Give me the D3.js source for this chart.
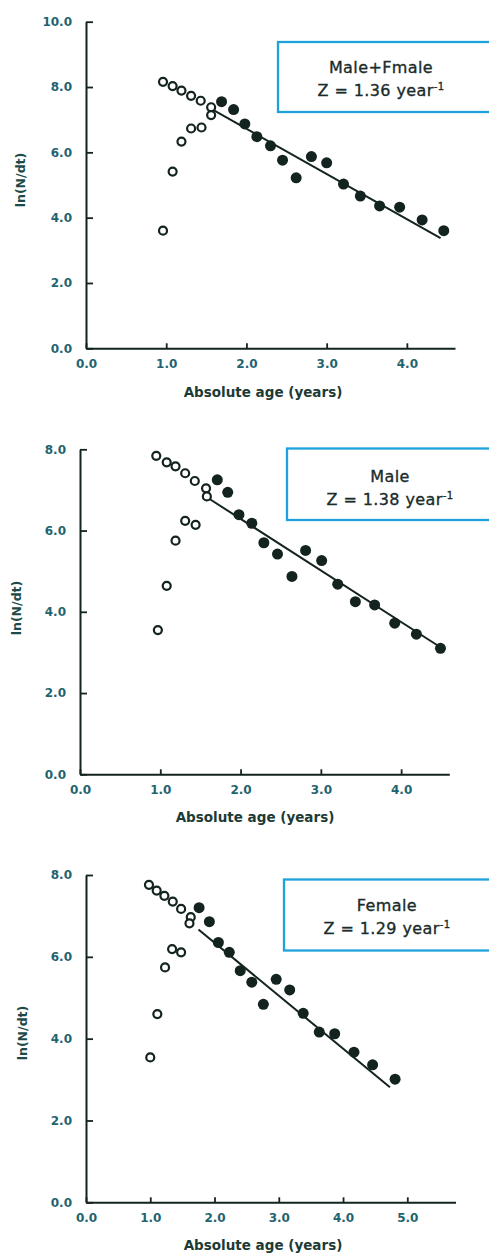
<!DOCTYPE html>
<html>
<head>
<meta charset="utf-8">
<script src="https://cdn.jsdelivr.net/npm/d3@7"></script>
<style>
  html, body { margin: 0; padding: 0; background: #ffffff; overflow: hidden; }
  svg { display: block; }
</style>
</head>
<body>
<svg id="chart" width="489" height="1253"></svg>
<script>
// ---------- DATA ----------
const panelTitles = ["Male+Fmale", "Male", "Female"];
const panelZ = ["1.36", "1.38", "1.29"];
const xAxisTitle = "Absolute age (years)";
const yAxisTitle = "ln(N/dt)";

const p1XTicks = [0, 1, 2, 3, 4];
const p1YTicks = [0, 2, 4, 6, 8, 10];
const p2XTicks = [0, 1, 2, 3, 4];
const p2YTicks = [0, 2, 4, 6, 8];
const p3XTicks = [0, 1, 2, 3, 4, 5];
const p3YTicks = [0, 2, 4, 6, 8];

// Panel 1 : Male+Fmale
const p1OpenX = [0.96, 1.08, 1.19, 1.31, 1.43, 1.56, 1.56, 1.44, 1.31, 1.19, 1.08, 0.96];
const p1OpenY = [8.16, 8.03, 7.89, 7.73, 7.58, 7.38, 7.14, 6.76, 6.73, 6.33, 5.41, 3.60];
const p1FilledX = [1.69, 1.84, 1.98, 2.13, 2.30, 2.45, 2.62, 2.81, 3.00, 3.21, 3.42, 3.66, 3.91, 4.19, 4.46];
const p1FilledY = [7.55, 7.31, 6.87, 6.48, 6.20, 5.76, 5.22, 5.87, 5.68, 5.03, 4.66, 4.36, 4.32, 3.93, 3.60];
const p1LineX = [1.59, 4.42];
const p1LineY = [7.29, 3.37];

// Panel 2 : Male
const p2OpenX = [0.95, 1.08, 1.19, 1.31, 1.43, 1.57, 1.58, 1.44, 1.31, 1.19, 1.08, 0.97];
const p2OpenY = [7.84, 7.68, 7.58, 7.41, 7.22, 7.04, 6.84, 6.14, 6.24, 5.75, 4.64, 3.55];
const p2FilledX = [1.71, 1.84, 1.98, 2.14, 2.29, 2.46, 2.64, 2.81, 3.01, 3.21, 3.43, 3.67, 3.92, 4.19, 4.49];
const p2FilledY = [7.25, 6.94, 6.39, 6.18, 5.70, 5.42, 4.87, 5.51, 5.26, 4.68, 4.25, 4.17, 3.72, 3.45, 3.10];
const p2LineX = [1.58, 4.48];
const p2LineY = [6.82, 3.14];

// Panel 3 : Female
const p3OpenX = [0.98, 1.10, 1.22, 1.35, 1.48, 1.63, 1.61, 1.48, 1.34, 1.23, 1.11, 1.00];
const p3OpenY = [7.76, 7.62, 7.49, 7.35, 7.17, 6.97, 6.82, 6.11, 6.19, 5.74, 4.60, 3.54];
const p3FilledX = [1.76, 1.92, 2.06, 2.23, 2.40, 2.58, 2.76, 2.96, 3.17, 3.38, 3.63, 3.87, 4.17, 4.46, 4.81];
const p3FilledY = [7.20, 6.86, 6.35, 6.11, 5.66, 5.38, 4.84, 5.45, 5.19, 4.62, 4.16, 4.12, 3.67, 3.36, 3.01];
const p3LineX = [1.75, 4.73];
const p3LineY = [6.67, 2.81];

// ---------- LAYOUT ----------
const panels = [
  { title: panelTitles[0], z: panelZ[0], xMax: 4.6, yMax: 10,
    xRange: [86, 455], yRange: [348.3, 21.7],
    xTicks: p1XTicks, yTicks: p1YTicks,
    openX: p1OpenX, openY: p1OpenY, filledX: p1FilledX, filledY: p1FilledY,
    lineX: p1LineX, lineY: p1LineY,
    box: { x: 278, top: 42, bottom: 112 }, t1: 72.7, t2: 96,
    yTitle: { x: 20.5, y: 180 }, xTitle: { x: 263, y: 397 } },
  { title: panelTitles[1], z: panelZ[1], xMax: 4.6, yMax: 8,
    xRange: [80, 449.3], yRange: [774.3, 449.3],
    xTicks: p2XTicks, yTicks: p2YTicks,
    openX: p2OpenX, openY: p2OpenY, filledX: p2FilledX, filledY: p2FilledY,
    lineX: p2LineX, lineY: p2LineY,
    box: { x: 287, top: 448.5, bottom: 520 }, t1: 481.7, t2: 505,
    yTitle: { x: 17, y: 608 }, xTitle: { x: 255, y: 822 } },
  { title: panelTitles[2], z: panelZ[2], xMax: 5.75, yMax: 8,
    xRange: [86, 455.5], yRange: [1202.3, 875],
    xTicks: p3XTicks, yTicks: p3YTicks,
    openX: p3OpenX, openY: p3OpenY, filledX: p3FilledX, filledY: p3FilledY,
    lineX: p3LineX, lineY: p3LineY,
    box: { x: 284, top: 879.5, bottom: 950.5 }, t1: 911, t2: 934.3,
    yTitle: { x: 22.5, y: 1033 }, xTitle: { x: 263, y: 1250 } }
];

const svg = d3.select("#chart");
const INK = "#13231f";
const TICK_COLOR = "#1f6470";
const BOX_COLOR = "#1ea2dc";

panels.forEach(p => {
  const x = d3.scaleLinear().domain([0, p.xMax]).range(p.xRange);
  const y = d3.scaleLinear().domain([0, p.yMax]).range(p.yRange);
  const g = svg.append("g");

  // legend box (right edge runs off the page, as in the reference)
  g.append("rect")
    .attr("x", p.box.x).attr("y", p.box.top)
    .attr("width", 300).attr("height", p.box.bottom - p.box.top)
    .attr("fill", "none").attr("stroke", BOX_COLOR).attr("stroke-width", 2.3);
  const cx = p.box.x + 103;
  g.append("text").attr("x", cx).attr("y", p.t1)
    .attr("text-anchor", "middle")
    .style("font-family", "'DejaVu Sans', Verdana, sans-serif")
    .style("font-size", "16px").style("letter-spacing", "0.4px")
    .attr("fill", "#1a2c2b").attr("stroke", "#1a2c2b").attr("stroke-width", 0.35)
    .text(p.title);
  const zt = g.append("text").attr("x", cx).attr("y", p.t2)
    .attr("text-anchor", "middle")
    .style("font-family", "'DejaVu Sans', Verdana, sans-serif")
    .style("font-size", "16px").style("letter-spacing", "0.4px")
    .attr("fill", "#1a2c2b").attr("stroke", "#1a2c2b").attr("stroke-width", 0.35);
  zt.append("tspan").text("Z = " + p.z + " year");
  zt.append("tspan").attr("dy", -6).style("font-size", "10px").text("-1");

  // axes
  const yAxis = d3.axisLeft(y).tickValues(p.yTicks)
    .tickFormat(d3.format(".1f")).tickSizeInner(-7).tickSizeOuter(0).tickPadding(14);
  const xAxis = d3.axisBottom(x).tickValues(p.xTicks)
    .tickFormat(d3.format(".1f")).tickSizeInner(-5).tickSizeOuter(0).tickPadding(11.5);

  const gy = g.append("g").attr("transform", `translate(${p.xRange[0]},0)`).call(yAxis);
  const gx = g.append("g").attr("transform", `translate(0,${p.yRange[0]})`).call(xAxis);
  [gx, gy].forEach(a => {
    a.select(".domain").attr("stroke", INK).attr("stroke-width", 2);
    a.selectAll(".tick line").attr("stroke", INK).attr("stroke-width", 1.8);
    a.selectAll(".tick text")
      .style("font-family", "'DejaVu Sans', Verdana, sans-serif")
      .style("font-weight", "bold").style("font-size", "12px")
      .attr("fill", TICK_COLOR);
  });

  // axis titles
  g.append("text")
    .attr("transform", `translate(${p.yTitle.x},${p.yTitle.y}) rotate(-90)`)
    .attr("text-anchor", "middle").attr("dy", "0.35em")
    .style("font-family", "'DejaVu Sans', Verdana, sans-serif")
    .style("font-weight", "bold").style("font-size", "12.5px")
    .attr("fill", "#1c4a48").text(yAxisTitle);
  g.append("text")
    .attr("x", p.xTitle.x).attr("y", p.xTitle.y)
    .attr("text-anchor", "middle")
    .style("font-family", "'DejaVu Sans', Verdana, sans-serif")
    .style("font-weight", "bold").style("font-size", "13.5px")
    .attr("fill", "#1d3a35").text(xAxisTitle);

  // regression line
  const lineData = p.lineX.map((v, i) => [v, p.lineY[i]]);
  g.append("path").datum(lineData)
    .attr("d", d3.line().x(d => x(d[0])).y(d => y(d[1])))
    .attr("fill", "none").attr("stroke", INK).attr("stroke-width", 2);

  // open circles
  const openData = p.openX.map((v, i) => [v, p.openY[i]]);
  g.append("g").selectAll("circle").data(openData).join("circle")
    .attr("cx", d => x(d[0])).attr("cy", d => y(d[1])).attr("r", 4)
    .attr("fill", "#ffffff").attr("stroke", INK).attr("stroke-width", 2.2);

  // filled circles
  const filledData = p.filledX.map((v, i) => [v, p.filledY[i]]);
  g.append("g").selectAll("circle").data(filledData).join("circle")
    .attr("cx", d => x(d[0])).attr("cy", d => y(d[1])).attr("r", 5.5)
    .attr("fill", INK);
});
</script>
</body>
</html>
